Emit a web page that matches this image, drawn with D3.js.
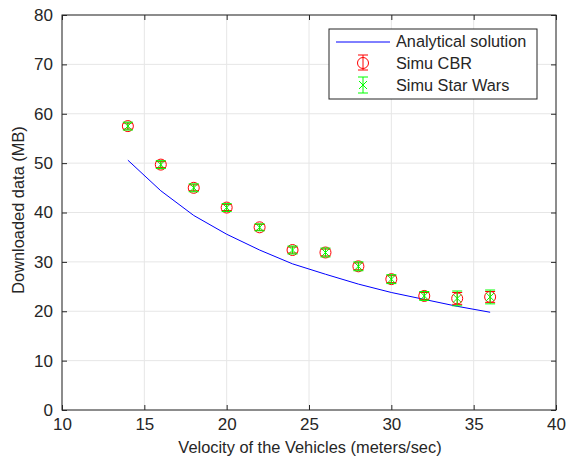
<!DOCTYPE html>
<html>
<head>
<meta charset="utf-8">
<script src="https://cdn.jsdelivr.net/npm/d3@7"></script>
<style>
  body { margin: 0; background: #fff; }
  text { font-family: "Liberation Sans", Arial, sans-serif; fill: #262626; }
</style>
</head>
<body>
<script>
// data
var velocity = [14, 16, 18, 20, 22, 24, 26, 28, 30, 32, 34, 36];
var analytical = [50.6, 44.4, 39.4, 35.6, 32.4, 29.6, 27.5, 25.5, 23.8, 22.4, 21.0, 19.8];
var cbr = [57.5, 49.7, 45.0, 41.0, 37.0, 32.4, 31.9, 29.1, 26.5, 23.1, 22.6, 22.9];
var cbrErr = [0.6, 0.6, 0.6, 0.6, 0.6, 0.6, 0.7, 0.7, 0.7, 0.7, 1.2, 1.1];
var starWars = [57.5, 49.7, 45.0, 41.0, 37.0, 32.4, 31.9, 29.1, 26.5, 23.1, 22.6, 22.9];
var starErr = [0.8, 0.8, 0.8, 0.8, 0.7, 0.8, 0.9, 0.9, 0.9, 0.9, 1.5, 1.4];
var xTicks = [10, 15, 20, 25, 30, 35, 40];
var yTicks = [0, 10, 20, 30, 40, 50, 60, 70, 80];

var width = 568, height = 462;
var plotL = 62, plotR = 556, plotT = 15, plotB = 410;

var svg = d3.select('body').append('svg')
  .attr('width', width)
  .attr('height', height);

var x = d3.scaleLinear().domain([10, 40]).range([plotL, plotR]);
var y = d3.scaleLinear().domain([0, 80]).range([plotB, plotT]);

// grid
svg.selectAll('.gx').data(xTicks).enter().append('line')
  .attr('x1', function(d){ return x(d); }).attr('x2', function(d){ return x(d); })
  .attr('y1', plotT).attr('y2', plotB)
  .attr('stroke', '#e6e6e6').attr('stroke-width', 1);
svg.selectAll('.gy').data(yTicks).enter().append('line')
  .attr('x1', plotL).attr('x2', plotR)
  .attr('y1', function(d){ return y(d); }).attr('y2', function(d){ return y(d); })
  .attr('stroke', '#e6e6e6').attr('stroke-width', 1);

// axes, ticks inward
var axisColor = '#262626';
function styleAxis(g){
  g.select('.domain').remove();
  g.selectAll('line').attr('stroke', axisColor);
  g.selectAll('text').attr('font-size', '17px').style('fill', axisColor);
}
svg.append('g').attr('transform', 'translate(0,' + plotB + ')')
  .call(d3.axisBottom(x).tickValues(xTicks).tickSize(-5).tickPadding(8))
  .call(styleAxis);
svg.append('g').attr('transform', 'translate(0,' + plotT + ')')
  .call(d3.axisTop(x).tickValues(xTicks).tickSize(-5).tickFormat(''))
  .call(styleAxis);
svg.append('g').attr('transform', 'translate(' + plotL + ',0)')
  .call(d3.axisLeft(y).tickValues(yTicks).tickSize(-5).tickPadding(9))
  .call(styleAxis);
svg.append('g').attr('transform', 'translate(' + plotR + ',0)')
  .call(d3.axisRight(y).tickValues(yTicks).tickSize(-5).tickFormat(''))
  .call(styleAxis);

svg.append('rect')
  .attr('x', plotL).attr('y', plotT)
  .attr('width', plotR - plotL).attr('height', plotB - plotT)
  .attr('fill', 'none').attr('stroke', axisColor).attr('stroke-width', 1);

// analytical line
var line = d3.line()
  .x(function(d, i){ return x(velocity[i]); })
  .y(function(d){ return y(d); });
svg.append('path').datum(analytical)
  .attr('d', line)
  .attr('fill', 'none').attr('stroke', '#0000ff').attr('stroke-width', 1);

// error bars
function errorBars(vals, errs, color, cap){
  var g = svg.append('g').attr('stroke', color).attr('stroke-width', 1);
  vals.forEach(function(v, i){
    var cx = x(velocity[i]);
    g.append('line').attr('x1', cx).attr('x2', cx)
      .attr('y1', y(v - errs[i])).attr('y2', y(v + errs[i]));
    g.append('line').attr('x1', cx - cap).attr('x2', cx + cap)
      .attr('y1', y(v - errs[i])).attr('y2', y(v - errs[i]));
    g.append('line').attr('x1', cx - cap).attr('x2', cx + cap)
      .attr('y1', y(v + errs[i])).attr('y2', y(v + errs[i]));
  });
}
errorBars(cbr, cbrErr, '#ff0000', 5);
svg.selectAll('.cbr').data(cbr).enter().append('circle')
  .attr('cx', function(d, i){ return x(velocity[i]); })
  .attr('cy', function(d){ return y(d); })
  .attr('r', 5.5)
  .attr('fill', 'none').attr('stroke', '#ff0000').attr('stroke-width', 1);

errorBars(starWars, starErr, '#00ff00', 5);
svg.selectAll('.sw').data(starWars).enter().append('path')
  .attr('transform', function(d, i){ return 'translate(' + x(velocity[i]) + ',' + y(d) + ')'; })
  .attr('d', 'M-4,-4L4,4M-4,4L4,-4')
  .attr('fill', 'none').attr('stroke', '#00ff00').attr('stroke-width', 1);

// labels
svg.append('text')
  .attr('x', 310).attr('y', 453)
  .attr('text-anchor', 'middle').attr('font-size', '16.4px')
  .text('Velocity of the Vehicles (meters/sec)');
svg.append('text')
  .attr('transform', 'translate(24,210) rotate(-90)')
  .attr('text-anchor', 'middle').attr('font-size', '16.4px')
  .text('Downloaded data (MB)');

// legend
var lg = svg.append('g');
lg.append('rect')
  .attr('x', 329).attr('y', 29).attr('width', 208).attr('height', 70)
  .attr('fill', '#fff').attr('stroke', axisColor).attr('stroke-width', 1);
lg.append('line').attr('x1', 336).attr('x2', 390).attr('y1', 42).attr('y2', 42)
  .attr('stroke', '#0000ff').attr('stroke-width', 1);
// CBR sample
lg.append('line').attr('x1', 363).attr('x2', 363).attr('y1', 55).attr('y2', 70).attr('stroke', '#ff0000');
lg.append('line').attr('x1', 358).attr('x2', 368).attr('y1', 55).attr('y2', 55).attr('stroke', '#ff0000');
lg.append('line').attr('x1', 358).attr('x2', 368).attr('y1', 70).attr('y2', 70).attr('stroke', '#ff0000');
lg.append('circle').attr('cx', 363).attr('cy', 63).attr('r', 5.5)
  .attr('fill', 'none').attr('stroke', '#ff0000');
// Star Wars sample
lg.append('line').attr('x1', 363).attr('x2', 363).attr('y1', 77).attr('y2', 93).attr('stroke', '#00ff00');
lg.append('line').attr('x1', 358).attr('x2', 368).attr('y1', 77).attr('y2', 77).attr('stroke', '#00ff00');
lg.append('line').attr('x1', 358).attr('x2', 368).attr('y1', 93).attr('y2', 93).attr('stroke', '#00ff00');
lg.append('path').attr('transform', 'translate(363,85)')
  .attr('d', 'M-4,-4L4,4M-4,4L4,-4').attr('fill', 'none').attr('stroke', '#00ff00');

var names = ['Analytical solution', 'Simu CBR', 'Simu Star Wars'];
lg.selectAll('.lt').data(names).enter().append('text')
  .attr('x', 396).attr('y', function(d, i){ return 47 + i * 22; })
  .attr('font-size', '16.3px')
  .text(function(d){ return d; });
</script>
</body>
</html>
